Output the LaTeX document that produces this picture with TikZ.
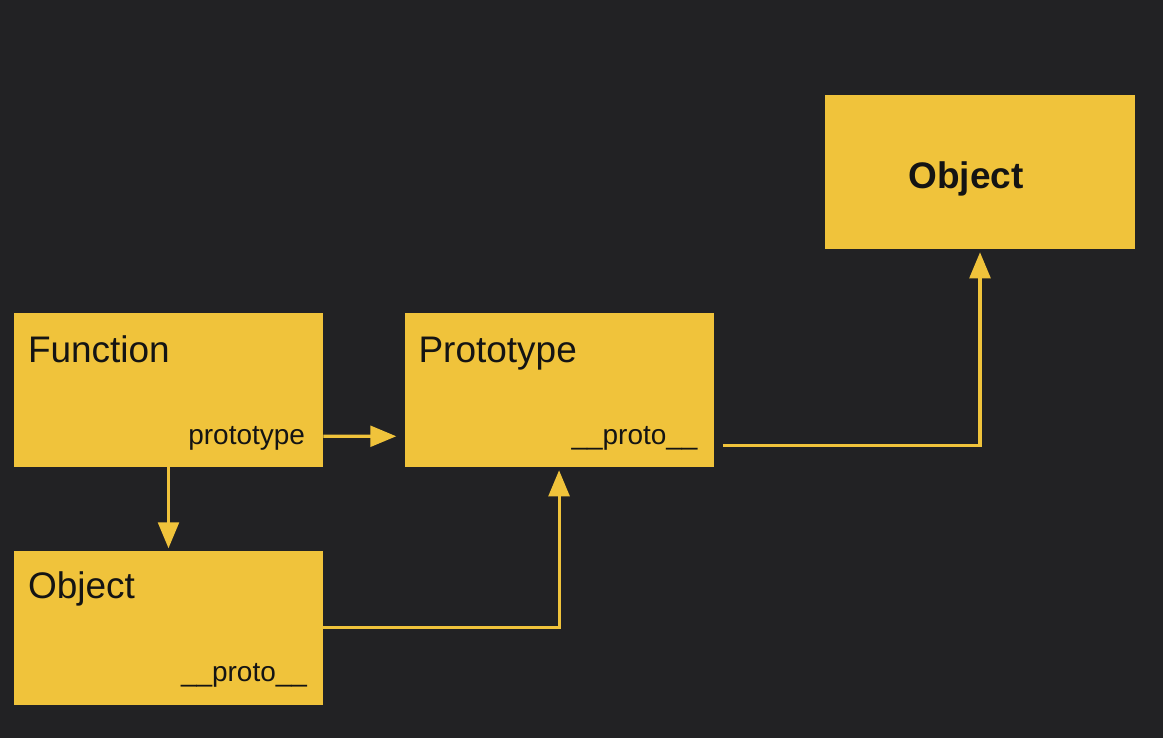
\documentclass[tikz,border=0pt]{standalone}
\usepackage{fontspec}
\setmainfont{Liberation Sans}
\usepackage{xcolor}
\usepackage{tikz}
\usetikzlibrary{positioning,arrows.meta}
\definecolor{bg}{HTML}{222224}
\definecolor{gold}{HTML}{F0C33B}
\definecolor{ink}{HTML}{141414}
\tikzset{
  box/.style={fill=gold, draw=none, minimum width=7.725cm, minimum height=3.85cm, inner sep=0pt},
  title/.style={text=ink, inner sep=0pt, font=\fontsize{26.3}{30}\selectfont},
  lab/.style={text=ink, inner sep=0pt, font=\fontsize{19.9}{24}\selectfont},
  arrow/.style={draw=gold, line width=2.2pt, -{Triangle[length=0.65cm,width=0.52cm]}},
}

\begin{document}
\begin{tikzpicture}
  \fill[bg] (0,0) rectangle (29.075,18.45);
  \useasboundingbox (0,0) rectangle (29.075,18.45);

  \node[box] (fn) at (4.2125,8.7) {};
  \node[box, right=2.025cm of fn] (pr) {};
  \node[box, below=2.075cm of fn] (obj) {};
  \node[box, minimum width=7.75cm] (top) at (24.5,14.15) {};

  \node[title, anchor=base west] (fntitle) at ([shift={(0.35,-1.25)}]fn.north west) {Function};
  \node[lab, anchor=base east] (fnproto) at ([shift={(-0.45,0.575)}]fn.south east) {prototype};
  \node[title, anchor=base west] (prtitle) at ([shift={(0.35,-1.25)}]pr.north west) {Prototype};
  \node[lab, anchor=base east] (prproto) at ([shift={(-0.4,0.575)}]pr.south east) {\_\_proto\_\_};
  \node[title, anchor=base west] (objtitle) at ([shift={(0.35,-1.2)}]obj.north west) {Object};
  \node[lab, anchor=base east] (objproto) at ([shift={(-0.4,0.575)}]obj.south east) {\_\_proto\_\_};
  \node[title, anchor=base, font=\fontsize{26.3}{30}\selectfont\bfseries] (toptitle) at ([shift={(-0.35,-0.425)}]top.center) {Object};

  \draw[arrow] ([yshift=0.775cm]fn.south east) -- ([shift={(-0.2,0.775)}]pr.south west);
  \draw[arrow] (fn.south) -- ([yshift=0.05cm]obj.north);
  \draw[arrow] (obj.east) -| ([yshift=-0.075cm]pr.south);
  \draw[arrow] ([shift={(0.225,0.55)}]pr.south east) -| ([yshift=-0.075cm]top.south);
\end{tikzpicture}
\end{document}
